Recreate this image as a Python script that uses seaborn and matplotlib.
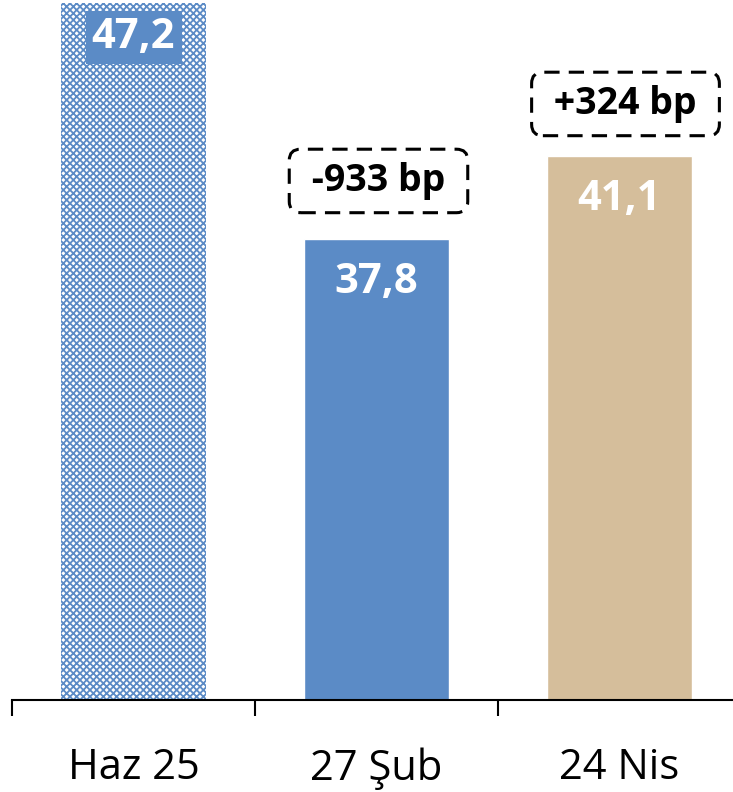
import matplotlib
matplotlib.use('Agg')
import matplotlib.pyplot as plt
import seaborn as sns
import pandas as pd

# data
categories = ['Haz 25', '27 Şub', '24 Nis']
values = [47.2, 37.8, 41.1]
value_labels = ['47,2', '37,8', '41,1']
change_labels = [None, '-933 bp', '+324 bp']

blue = '#5B8BC6'
tan = '#D5BE9B'
bar_colors = [blue, blue, tan]

sns.set_style('white')
plt.rcParams['font.family'] = ['Open Sans', 'DejaVu Sans']
plt.rcParams['hatch.linewidth'] = 1.3

df = pd.DataFrame({'Tarih': categories, 'Deger': values})

fig = plt.figure(figsize=(7.33, 7.92), dpi=100)
ax = fig.add_axes([12 / 733, 92 / 792, 729 / 733, 700 / 792])
sns.barplot(data=df, x='Tarih', y='Deger', hue='Tarih', palette=bar_colors,
            width=0.6, legend=False, ax=ax, saturation=1)

# first bar: checkered pattern
first = ax.patches[0]
first.set_facecolor('white')
first.set_edgecolor(blue)
first.set_linewidth(0)
first.set_hatch('xxxxx')

ax.set_ylim(19.47, 47.3)
ax.set_xlim(-0.5, 2.5)

# value labels inside bars
label_offsets = [-35, -44, -44]
for i, (v, lab) in enumerate(zip(values, value_labels)):
    box = dict(boxstyle='square,pad=0.15', facecolor=blue, edgecolor='none') if i == 0 else None
    ax.annotate(lab, (i, v), xytext=(0, label_offsets[i] * 0.72), textcoords='offset points',
                ha='center', va='center', fontsize=30, fontweight='bold', color='white',
                bbox=box)

# change boxes above bars
change_offsets = [0, 58, 52]
change_dx = [0, 2, 6]
for i, (v, lab) in enumerate(zip(values, change_labels)):
    if lab is None:
        continue
    ax.annotate(' ' + lab + ' ', (i, v), xytext=(change_dx[i] * 0.72, change_offsets[i] * 0.72),
                textcoords='offset points', ha='center', va='center',
                fontsize=27, fontweight='bold', color='black',
                bbox=dict(boxstyle='round,pad=0.34,rounding_size=0.3', facecolor='white',
                          edgecolor='black', linewidth=2.2, linestyle=(0, (5, 3))))

# axis styling
sns.despine(ax=ax, left=True, top=True, right=True)
ax.spines['bottom'].set_linewidth(1.5)
ax.spines['bottom'].set_color('black')
ax.set_yticks([])
ax.set_xticks(range(len(categories)))
ax.set_xticklabels(categories, fontsize=30)
ax.set_xticks([-0.5, 0.5, 1.5, 2.5], minor=True)
ax.tick_params(axis='x', which='major', length=0, pad=34, colors='black')
ax.tick_params(axis='x', which='minor', bottom=True, length=11.5, width=1.5,
               direction='out', color='black')
ax.set_xlabel('')
ax.set_ylabel('')

fig.savefig('out.png', dpi=100)
